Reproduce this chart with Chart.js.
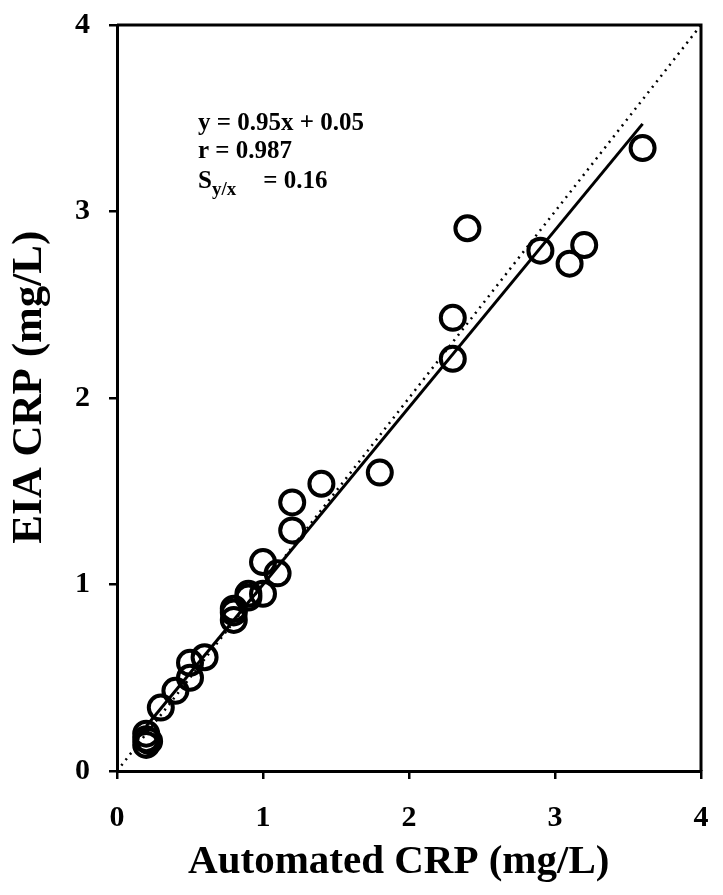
<!DOCTYPE html>
<html>
<head>
<meta charset="utf-8">
<script src="https://cdn.jsdelivr.net/npm/chart.js@4/dist/chart.umd.min.js"></script>
<style>
  html, body { margin: 0; padding: 0; background: #fff; }
  #wrap { width: 723px; height: 895px; position: relative; }
</style>
</head>
<body>
<div id="wrap"><canvas id="chart"></canvas></div>
<script>
// Automated CRP (x) vs EIA CRP (y), mg/L
const automatedCrp = [0.2, 0.2, 0.2, 0.22, 0.3, 0.4, 0.5, 0.5, 0.6, 0.8, 0.8, 0.8, 0.9, 0.9,
                      1.0, 1.0, 1.1, 1.2, 1.2, 1.4, 1.8, 2.3, 2.3, 2.4, 2.9, 3.1, 3.2, 3.6];
const eiaCrp       = [0.14, 0.17, 0.2, 0.16, 0.34, 0.43, 0.5, 0.58, 0.61, 0.81, 0.85, 0.87, 0.93, 0.95,
                      0.95, 1.12, 1.06, 1.29, 1.44, 1.54, 1.6, 2.21, 2.43, 2.91, 2.79, 2.72, 2.82, 3.34];

const fitSlope = 0.95;
const fitIntercept = 0.05;
const fitRange = [0.2, 3.6];
const identityRange = [0, 4];
const axisTicks = [0, 1, 2, 3, 4];

const statLines = ['y = 0.95x + 0.05', 'r = 0.987'];
const syxValue = '= 0.16';

const SERIF = "'Liberation Serif', 'Times New Roman', serif";

const points = automatedCrp.map((x, i) => ({ x: x, y: eiaCrp[i] }));
const fitLine = fitRange.map(x => ({ x: x, y: fitSlope * x + fitIntercept }));
const identityLine = identityRange.map(v => ({ x: v, y: v }));

const frameAndText = {
    id: 'frameAndText',
    afterDraw(chart) {
        const { ctx, chartArea: a } = chart;
        ctx.save();
        // close the box on top and right
        ctx.strokeStyle = '#000';
        ctx.lineWidth = 3;
        ctx.beginPath();
        ctx.moveTo(a.left, a.top);
        ctx.lineTo(a.right, a.top);
        ctx.lineTo(a.right, a.bottom);
        ctx.stroke();

        ctx.fillStyle = '#000';
        ctx.textBaseline = 'alphabetic';
        ctx.textAlign = 'left';
        const x0 = a.left + 81;
        ctx.font = 'bold 25px ' + SERIF;
        ctx.fillText(statLines[0], x0, a.top + 105);
        ctx.fillText(statLines[1], x0, a.top + 133);
        ctx.fillText('S', x0, a.top + 163);
        const sW = ctx.measureText('S').width;
        ctx.font = 'bold 19px ' + SERIF;
        ctx.fillText('y/x', x0 + sW, a.top + 170);
        const subW = ctx.measureText('y/x').width;
        ctx.font = 'bold 25px ' + SERIF;
        ctx.fillText(syxValue, x0 + sW + subW + 27, a.top + 163);
        ctx.restore();
    }
};

function axis(titleText, isX) {
    return {
        type: 'linear',
        min: 0,
        max: 4,
        afterBuildTicks: s => { s.ticks = axisTicks.map(v => ({ value: v })); },
        ticks: {
            color: '#000',
            padding: isX ? 21 : 19,
            font: { family: SERIF, size: 30, weight: 'bold' },
        },
        grid: {
            display: true,
            drawOnChartArea: false,
            drawTicks: true,
            tickLength: 8,
            color: '#000',
            lineWidth: 2.5,
        },
        border: { display: true, color: '#000', width: 3 },
        title: {
            display: true,
            text: titleText,
            color: '#000',
            font: { family: SERIF, size: isX ? 41 : 43, weight: 'bold', lineHeight: 1.2 },
            padding: isX ? { top: 0, bottom: 8 } : { top: 4, bottom: 0 },
        },
        afterFit: s => {
            s.paddingTop = 0;
            s.paddingBottom = 0;
            s.paddingLeft = 0;
            s.paddingRight = 0;
            if (isX) s.height = 124;
            else s.width = 117;
        },
    };
}

new Chart(document.getElementById('chart'), {
    type: 'scatter',
    data: {
        datasets: [
            {
                label: 'Samples',
                data: points,
                pointStyle: 'circle',
                pointRadius: 12,
                pointHoverRadius: 12,
                borderWidth: 4,
                borderColor: '#000',
                backgroundColor: 'rgba(0,0,0,0)',
                order: 1,
            },
            {
                label: 'Fit',
                type: 'line',
                data: fitLine,
                borderColor: '#000',
                borderWidth: 3,
                pointRadius: 0,
                fill: false,
                order: 2,
            },
            {
                label: 'Identity',
                type: 'line',
                data: identityLine,
                borderColor: '#000',
                borderWidth: 2.5,
                borderDash: [2, 5],
                pointRadius: 0,
                fill: false,
                order: 3,
            },
        ],
    },
    options: {
        responsive: true,
        maintainAspectRatio: false,
        animation: false,
        layout: { padding: { left: 0, top: 25, right: 22, bottom: 0 } },
        plugins: {
            legend: { display: false },
            tooltip: { enabled: false },
        },
        scales: {
            // padding spaces nudge the titles toward the origin, as in the source figure
            x: axis('Automated CRP (mg/L)  ', true),
            y: axis('  EIA CRP (mg/L)', false),
        },
    },
    plugins: [frameAndText],
});
</script>
</body>
</html>
